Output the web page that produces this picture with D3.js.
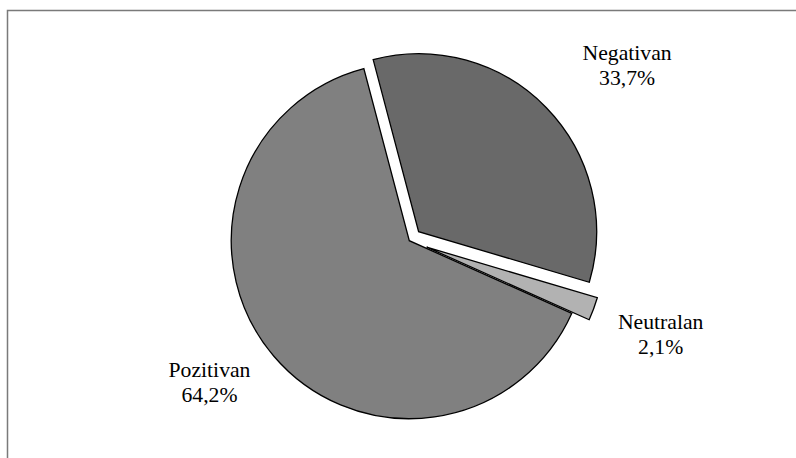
<!DOCTYPE html>
<html>
<head>
<meta charset="utf-8">
<script src="https://cdn.jsdelivr.net/npm/d3@7"></script>
<style>
  html, body { margin: 0; padding: 0; background: #fff; }
  svg { display: block; }
  .lbl { font-family: "Liberation Serif", "DejaVu Serif", "Noto Serif", serif; }
</style>
</head>
<body>
<script>
// data
const categories = ["Negativan", "Neutralan", "Pozitivan"];
const values = [33.7, 2.1, 64.2];
const valueLabels = ["33,7%", "2,1%", "64,2%"];

const w = 796;
const h = 458;
const cx = 409.3, cy = 240.7;
const radius = 178;
const colors = { Negativan: "#696969", Neutralan: "#b2b2b2", Pozitivan: "#808080" };
const explode = { Negativan: 13, Neutralan: 18.5, Pozitivan: 0 };
// label distance from centre + small angle nudge (degrees)
const labelPlace = {
  Negativan: { r: 280, da: 5.2 },
  Neutralan: { r: 268, da: 0 },
  Pozitivan: { r: 245, da: 5 }
};

const rad = (deg) => deg * Math.PI / 180;

const svg = d3.select("body")
  .append("svg")
  .attr("width", w)
  .attr("height", h);

// frame (only top and left edges visible)
svg.append("path")
  .attr("d", "M7.5," + (h + 5) + "V10.5H" + (w + 5))
  .attr("fill", "none")
  .attr("stroke", "#7a7a7a")
  .attr("stroke-width", 1.5);

const data = categories.map((c, i) => ({ cat: c, value: values[i], label: valueLabels[i] }));

const pie = d3.pie()
  .value((d) => d.value)
  .sort(null)
  .startAngle(rad(-14.8))
  .endAngle(rad(-14.8) + 2 * Math.PI);

const arc = d3.arc().innerRadius(0).outerRadius(radius);

const arcs = pie(data);

const g = svg.append("g").attr("transform", "translate(" + cx + "," + cy + ")");

g.selectAll("path.slice")
  .data(arcs)
  .enter()
  .append("path")
  .attr("class", "slice")
  .attr("transform", (d) => {
    const mid = (d.startAngle + d.endAngle) / 2;
    const e = explode[d.data.cat];
    return "translate(" + (Math.sin(mid) * e) + "," + (-Math.cos(mid) * e) + ")";
  })
  .attr("d", arc)
  .attr("fill", (d) => colors[d.data.cat])
  .attr("stroke", "#000")
  .attr("stroke-width", 1.3)
  .attr("stroke-linejoin", "miter");

const labels = g.selectAll("text.lbl")
  .data(arcs)
  .enter()
  .append("text")
  .attr("class", "lbl")
  .attr("text-anchor", "middle")
  .style("font-size", "21.7px")
  .attr("fill", "#000")
  .attr("transform", (d) => {
    const p = labelPlace[d.data.cat];
    const a = (d.startAngle + d.endAngle) / 2 + rad(p.da);
    return "translate(" + (Math.sin(a) * p.r) + "," + (-Math.cos(a) * p.r) + ")";
  });

labels.append("tspan")
  .attr("x", 0)
  .attr("y", -5)
  .text((d) => d.data.cat);

labels.append("tspan")
  .attr("x", 0)
  .attr("y", 20)
  .text((d) => d.data.label);
</script>
</body>
</html>
